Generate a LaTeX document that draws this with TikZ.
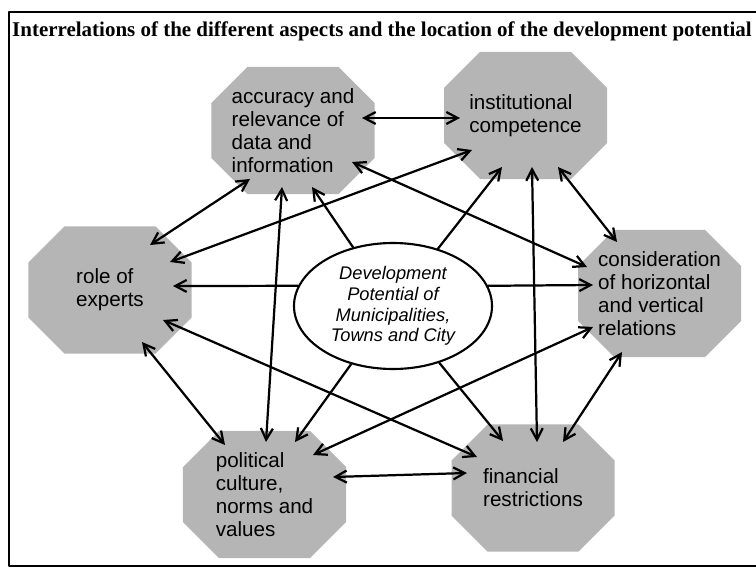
\documentclass[tikz,border=0pt]{standalone}
\usepackage{fontspec}
\setmainfont{Liberation Serif}
\setsansfont{Liberation Sans}
\usetikzlibrary{arrows.meta, shapes.geometric, calc}
\definecolor{aspectGray}{RGB}{181,181,181}
\tikzset{
    web/.style={x=0.03cm, y=-0.03cm, line cap=round, line join=round},
    aspect/.style={inner sep=0pt, minimum width=4.89cm, minimum height=3.81cm,
                   align=left, font=\sffamily\fontsize{17.6}{19.6}\selectfont,
                   path picture={\fill[aspectGray]
                       ($(path picture bounding box.north west)+(1.08cm,0)$)
                    -- ($(path picture bounding box.north east)+(-1.08cm,0)$)
                    -- ($(path picture bounding box.north east)+(0,-1.08cm)$)
                    -- ($(path picture bounding box.south east)+(0,1.08cm)$)
                    -- ($(path picture bounding box.south east)+(-1.08cm,0)$)
                    -- ($(path picture bounding box.south west)+(1.08cm,0)$)
                    -- ($(path picture bounding box.south west)+(0,1.08cm)$)
                    -- ($(path picture bounding box.north west)+(0,-1.08cm)$)
                    -- cycle;}},
    core/.style={ellipse, draw=black, line width=1.8pt, fill=white, inner sep=0pt,
                 minimum width=5.94cm, minimum height=3.78cm, align=center,
                 font=\sffamily\itshape\fontsize{15.6}{17.7}\selectfont},
    headline/.style={font=\bfseries\fontsize{17.9}{20}\selectfont, inner sep=0pt},
    link/.style={{Straight Barb[length=3.4mm,width=3.6mm]}-{Straight Barb[length=3.4mm,width=3.6mm]},
                 line width=1.9pt},
    effect/.style={-{Straight Barb[length=3.4mm,width=3.6mm]}, line width=1.9pt},
}

\begin{document}
\begin{tikzpicture}[web]
\useasboundingbox (0,0) rectangle (756,568);

% ─── Frame and title ───────────────────────────────────────────────────
\draw[line width=1.2pt] (9,12) rectangle (760,566);
\node[headline, anchor=base west] (title) at (12,37)
    {Interrelations of the different aspects and the location of the development potential};

% ─── The six aspects ───────────────────────────────────────────────────
\node[aspect] (acc)  at (293,130.5) {accuracy and\\relevance of\\data and\\information};
\node[aspect] (inst) at (525.5,115.5) {institutional\\competence};
\node[aspect] (role) at (110,290) {role of\\experts};
\node[aspect] (cons) at (659.5,293.5) {consideration\\of horizontal\\and vertical\\relations};
\node[aspect] (pol)  at (264.5,494.5) {political\\culture,\\norms and\\values};
\node[aspect] (fin)  at (533,488) {financial\\restrictions};

% ─── Development potential in the middle ───────────────────────────────
\node[core] (dev) at (393,306)
    {Development\\Potential of\\Municipalities,\\Towns and City};

% ─── Effects of the development potential ──────────────────────────────
\draw[effect] (dev)     -- ($(acc)+(19,56.5)$);
\draw[effect] (dev)     -- ($(inst)+(-23.5,51.5)$);
\draw[effect] (dev.168) -- ($(role)+(63,-4)$);
\draw[effect] (dev.12)  -- ($(cons)+(-66.5,-8.5)$);
\draw[effect] (dev)     -- ($(pol)+(30.5,-52.5)$);
\draw[effect] (dev)     -- ($(fin)+(-30,-47)$);

% ─── Interrelations between the aspects ────────────────────────────────
\draw[link] ($(acc)+(69,-12.5)$)  -- ($(inst)+(-65.5,2.5)$);
\draw[link] ($(acc)+(-43,48.5)$)  -- ($(role)+(40,-45)$);
\draw[link] ($(acc)+(-11,56.5)$)  -- ($(pol)+(1.5,-52.5)$);
\draw[link] ($(acc)+(59,31.5)$)   -- ($(cons)+(-72.5,-26.5)$);
\draw[link] ($(inst)+(-53.5,34.5)$) -- ($(role)+(60,-28)$);
\draw[link] ($(inst)+(6.5,51.5)$) -- ($(fin)+(4,-46)$);
\draw[link] ($(inst)+(32.5,51.5)$) -- ($(cons)+(-42.5,-51.5)$);
\draw[link] ($(role)+(32,52)$)    -- ($(pol)+(-39.5,-49.5)$);
\draw[link] ($(role)+(53,30)$)    -- ($(fin)+(-56,-31)$);
\draw[link] ($(pol)+(48.5,-39.5)$) -- ($(cons)+(-66.5,33.5)$);
\draw[link] ($(pol)+(68.5,-17.5)$) -- ($(fin)+(-66,-15)$);
\draw[link] ($(cons)+(-37.5,58.5)$) -- ($(fin)+(30,-46)$);

\end{tikzpicture}
\end{document}
